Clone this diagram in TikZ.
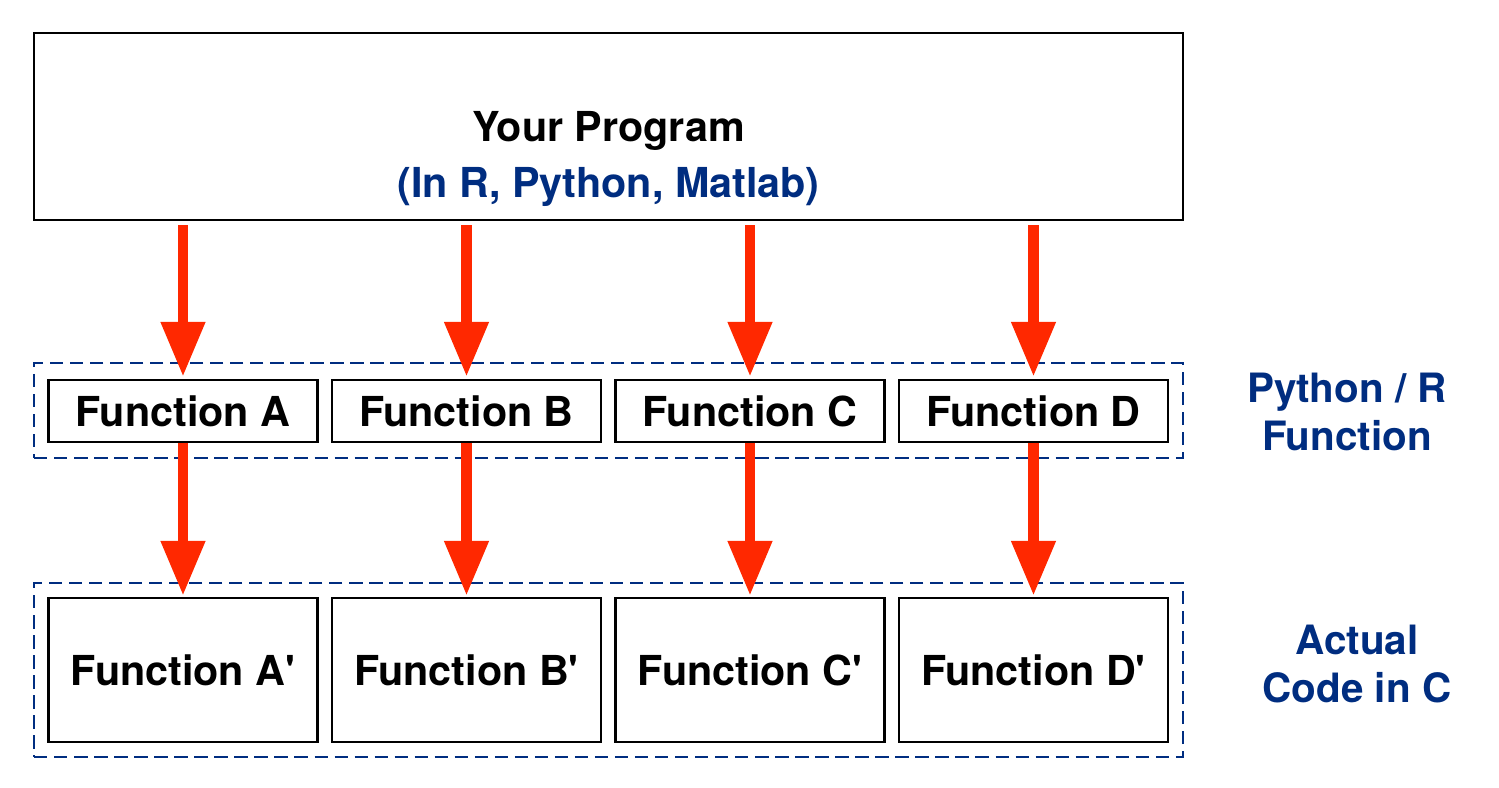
\documentclass[tikz,border=0pt]{standalone}
\usepackage{fontspec}
\setmainfont{TeX Gyre Heros}[Ligatures=TeXOff]
\usetikzlibrary{arrows.meta}
\definecolor{navy}{RGB}{0,45,128}
\definecolor{arrowred}{RGB}{255,40,0}
\tikzset{
  fbox/.style={draw, line width=1.4pt, minimum width=5.38cm, inner sep=0pt,
    font=\fontsize{23.5}{27}\selectfont\bfseries},
  group/.style={draw=navy, line width=1.3pt, dash pattern=on 7.6pt off 3.8pt,
    minimum width=22.98cm, inner sep=0pt},
  call/.style={arrowred, line width=6.2pt, -{Triangle[length=1.1cm, width=0.84cm]}},
  side/.style={navy, align=center, font=\fontsize{23}{27}\selectfont\bfseries}
}

\begin{document}
\begin{tikzpicture}[x=0.02cm, y=-0.02cm]
    \useasboundingbox (0,0) rectangle (1499,788);
    % top level program
    \node[draw, line width=1.4pt, minimum width=22.98cm, minimum height=3.74cm] (prog) at (608.5,126.5) {};
    \node[align=center, font=\fontsize{23.5}{27}\selectfont\bfseries] (progtext) at (608.5,159)
      {Your Program\\[5pt]\textcolor{navy}{(In R, Python, Matlab)}};
    % the two layers
    \node[group, minimum height=1.9cm] (pyrow) at (608.5,410.5) {};
    \node[group, minimum height=3.48cm] (crow) at (608.5,670) {};
    \foreach \n/\x in {A/183, B/466.5, C/750, D/1033.5}{
      \node[fbox, minimum height=1.24cm] (py\n) at (\x,411) {Function \n};
      \node[fbox, minimum height=2.88cm] (c\n) at (\x,670) {Function \n'};
      \draw[call, shorten <=0.08cm, shorten >=0.04cm] (py\n.north |- prog.south) -- (py\n.north);
      \draw[call, shorten >=0.02cm] (py\n) -- (c\n);
    }
    \node[side] (pylabel) at (1347,412) {Python / R\\Function};
    \node[side] (clabel) at (1357,664) {Actual\\Code in C};
  \end{tikzpicture}
\end{document}
